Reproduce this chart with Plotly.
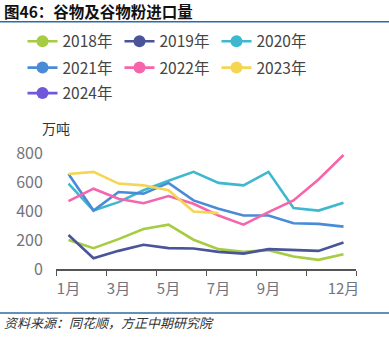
import plotly.graph_objects as go

# Monthly grain & grain-flour imports, 10k tonnes
months = ["1月", "2月", "3月", "4月", "5月", "6月", "7月", "8月", "9月", "10月", "11月", "12月"]
years = ["2018年", "2019年", "2020年", "2021年", "2022年", "2023年", "2024年"]

v2018 = [200, 144, 206, 276, 306, 202, 137, 118, 130, 86, 63, 102]
v2019 = [234, 74, 125, 167, 144, 141, 118, 106, 137, 130, 125, 183]
v2020 = [589, 403, 461, 543, 608, 670, 594, 577, 670, 420, 403, 457]
v2021 = [655, 403, 531, 520, 594, 473, 415, 369, 369, 315, 311, 292]
v2022 = [468, 554, 485, 454, 503, 450, 369, 306, 392, 473, 617, 786]
v2023 = [655, 670, 589, 577, 543, 397, 385]
v2024 = []

series = [v2018, v2019, v2020, v2021, v2022, v2023, v2024]
colors = ["#a6cc42", "#4a5498", "#3db8cf", "#4a8bd8", "#f665ab", "#f4d653", "#7058dc"]

# x tick labels shown on the category axis
tick_months = [1, 3, 5, 7, 9, 12]

W, H = 389, 340
L, R, T, B = 56, 33, 153, 71
PW, PH = W - L - R, H - T - B


def px(x):
    return (x - L) / PW


def py(y):
    return (H - B - y) / PH


fig = go.Figure()

month_idx = list(range(1, 13))
for name, vals, col in zip(years, series, colors):
    if vals:
        fig.add_trace(go.Scatter(
            x=month_idx[:len(vals)], y=vals, mode="lines", name=name,
            line=dict(color=col, width=2.6), showlegend=False, hoverinfo="skip",
        ))

legend_ids = ["legend", "legend", "legend", "legend2", "legend2", "legend2", "legend3"]
for name, col, lg in zip(years, colors, legend_ids):
    fig.add_trace(go.Scatter(
        x=[None], y=[None], mode="lines+markers", name=name, legend=lg,
        line=dict(color=col, width=2.6), marker=dict(color=col, size=12),
    ))

leg_common = dict(
    orientation="h", xanchor="left", yanchor="middle",
    font=dict(family="Noto Sans CJK SC", size=15.5, color="#444444"),
    entrywidth=52, entrywidthmode="pixels", itemclick=False,
    bgcolor="rgba(0,0,0,0)", traceorder="normal",
)

fig.update_layout(
    width=W, height=H,
    margin=dict(l=L, r=R, t=T, b=B, pad=0),
    paper_bgcolor="white", plot_bgcolor="white",
    font=dict(family="Noto Sans CJK SC"),
    legend=dict(x=px(22.5), y=py(41.7), **leg_common),
    legend2=dict(x=px(22.5), y=py(68), **leg_common),
    legend3=dict(x=px(22.5), y=py(93.5), **leg_common),
    xaxis=dict(
        range=[0.5, 12.5], showgrid=False, zeroline=False,
        tickmode="array", tickvals=tick_months,
        ticktext=[months[m - 1] for m in tick_months],
        ticks="outside", ticklen=5, tickcolor="rgba(0,0,0,0)",
        tickfont=dict(size=15, color="#73737d"),
        showline=True, linecolor="#555555", linewidth=1.6,
        minor=dict(tick0=0.5, dtick=2, ticks="outside", ticklen=5,
                   tickcolor="#555555", tickwidth=1.4),
    ),
    yaxis=dict(
        range=[0, 800], tickvals=[0, 200, 400, 600, 800],
        showgrid=False, zeroline=False, showline=False,
        ticks="outside", ticklen=9, tickcolor="rgba(0,0,0,0)",
        tickfont=dict(size=16, color="#73737d"),
    ),
    annotations=[
        dict(text="<b>图46：谷物及谷物粉进口量</b>", xref="paper", yref="paper",
             x=px(2), y=py(11), xanchor="left", yanchor="middle", showarrow=False,
             font=dict(size=15.5, color="#111111", family="Noto Sans CJK SC")),
        dict(text="万吨", xref="paper", yref="paper", x=px(55.5), y=py(128),
             xanchor="center", yanchor="middle", showarrow=False,
             font=dict(size=14, color="#333333")),
        dict(text="<i>资料来源：同花顺，方正中期研究院</i>", xref="paper", yref="paper",
             x=px(2), y=py(322), xanchor="left", yanchor="middle", showarrow=False,
             font=dict(size=13, color="#333333", family="Noto Sans CJK SC")),
    ],
    shapes=[
        dict(type="line", xref="paper", yref="paper", x0=px(0), x1=px(W),
             y0=py(21.7), y1=py(21.7), line=dict(color="#2f6aa5", width=1.5)),
        dict(type="line", xref="paper", yref="paper", x0=px(0), x1=px(W),
             y0=py(313), y1=py(313), line=dict(color="#2f6aa5", width=1.5)),
    ],
)

fig.write_html("out.html")
